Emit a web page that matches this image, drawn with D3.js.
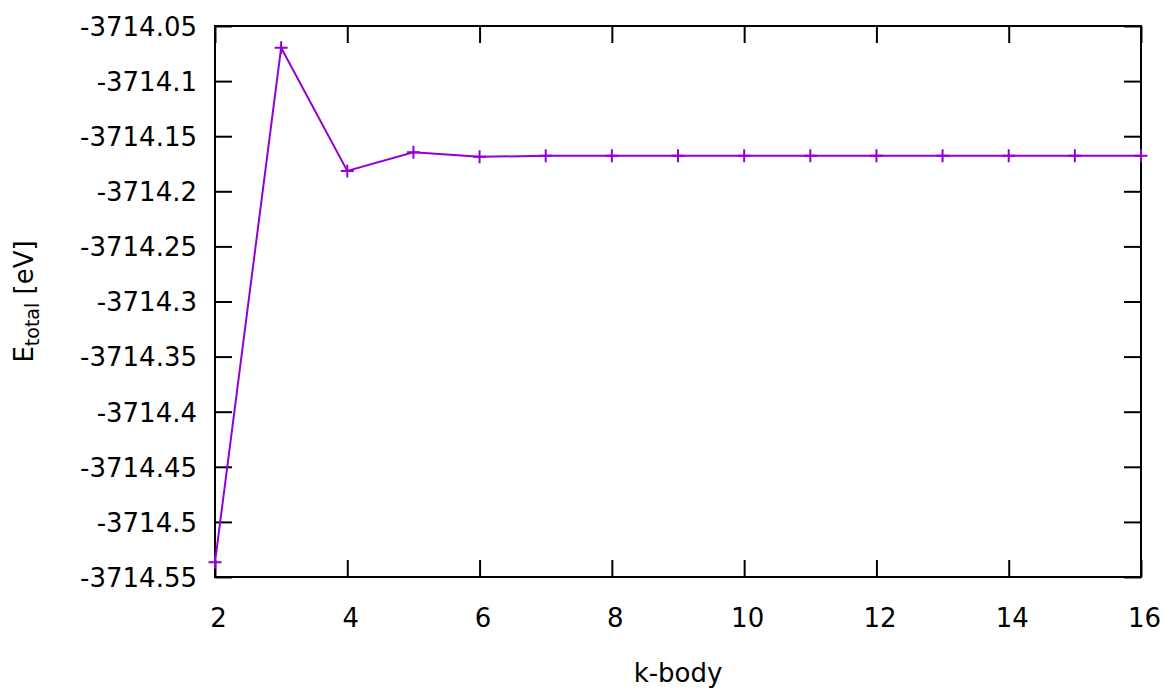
<!DOCTYPE html>
<html>
<head>
<meta charset="utf-8">
<script src="https://cdn.jsdelivr.net/npm/d3@7"></script>
<style>
  body { margin: 0; background: #fff; }
  text { font-family: "DejaVu Sans", sans-serif; font-size: 26px; fill: #000; }
</style>
</head>
<body>
<div id="plot"></div>
<script>
// data
const kBody = [2, 3, 4, 5, 6, 7, 8, 9, 10, 11, 12, 13, 14, 15, 16]
const eTotal = [-3714.5367, -3714.0697, -3714.1815, -3714.1646, -3714.1687, -3714.1678, -3714.1678, -3714.1678,
  -3714.1678, -3714.1678, -3714.1678, -3714.1678, -3714.1678, -3714.1678, -3714.1678]
const xTicks = [2, 4, 6, 8, 10, 12, 14, 16]
const yTicks = [-3714.05, -3714.1, -3714.15, -3714.2, -3714.25, -3714.3, -3714.35, -3714.4, -3714.45, -3714.5, -3714.55]

const width = 1165, height = 689
const margin = ({top: 26, right: 24, bottom: 112, left: 215})
const color = '#9400d3'
const tickLen = 17

const svg = d3.select('#plot').append('svg')
  .attr('width', width)
  .attr('height', height)

const xScale = d3.scaleLinear()
  .domain([2, 16])
  .range([margin.left, width - margin.right])
const yScale = d3.scaleLinear()
  .domain([-3714.55, -3714.05])
  .range([height - margin.bottom, margin.top])

const fmtY = d => String(+d.toFixed(2))

//axes: ticks point inwards, mirrored on top and right
const axisStyle = g => g
  .call(g => g.select('.domain').remove())
  .call(g => g.selectAll('.tick line').attr('stroke', '#000').attr('stroke-width', 2))
  .call(g => g.selectAll('.tick text').style('font-family', '"DejaVu Sans", sans-serif').style('font-size', '26px').attr('fill', '#000'))

svg.append('g')
  .attr('transform', `translate(0,${height - margin.bottom})`)
  .call(d3.axisBottom(xScale).tickValues(xTicks).tickSizeInner(-tickLen).tickSizeOuter(0).tickPadding(32))
  .call(axisStyle)
  .call(g => g.selectAll('.tick text').attr('dy', '0.71em').attr('dx', 3))

svg.append('g')
  .attr('transform', `translate(0,${margin.top})`)
  .call(d3.axisTop(xScale).tickValues(xTicks).tickSizeInner(-tickLen).tickSizeOuter(0).tickFormat(''))
  .call(axisStyle)

svg.append('g')
  .attr('transform', `translate(${margin.left},0)`)
  .call(d3.axisLeft(yScale).tickValues(yTicks).tickSizeInner(-tickLen).tickSizeOuter(0).tickPadding(18).tickFormat(fmtY))
  .call(axisStyle)
  .call(g => g.selectAll('.tick text').attr('dy', '0.36em'))

svg.append('g')
  .attr('transform', `translate(${width - margin.right},0)`)
  .call(d3.axisRight(yScale).tickValues(yTicks).tickSizeInner(-tickLen).tickSizeOuter(0).tickFormat(''))
  .call(axisStyle)

//frame
svg.append('rect')
  .attr('x', margin.left)
  .attr('y', margin.top)
  .attr('width', width - margin.left - margin.right)
  .attr('height', height - margin.top - margin.bottom)
  .attr('fill', 'none')
  .attr('stroke', '#000')
  .attr('stroke-width', 2)

//data line
const data = kBody.map((k, i) => [k, eTotal[i]])
const line = d3.line()
  .x(d => xScale(d[0]))
  .y(d => yScale(d[1]))

svg.append('path')
  .datum(data)
  .attr('d', line)
  .attr('fill', 'none')
  .attr('stroke', color)
  .attr('stroke-width', 2)

//plus markers
const m = 6.5
svg.append('g')
  .selectAll('path')
  .data(data)
  .join('path')
  .attr('d', d => {
    const x = xScale(d[0]), y = yScale(d[1])
    return `M${x - m},${y}H${x + m}M${x},${y - m}V${y + m}`
  })
  .attr('stroke', color)
  .attr('stroke-width', 2)

//axis labels
svg.append('text')
  .attr('x', (margin.left + width - margin.right) / 2)
  .attr('y', 682)
  .attr('text-anchor', 'middle')
  .text('k-body')

const yl = svg.append('text')
  .attr('transform', `translate(33,${(margin.top + height - margin.bottom) / 2}) rotate(-90)`)
  .attr('text-anchor', 'middle')
yl.append('tspan').text('E')
yl.append('tspan').style('font-size', '19px').attr('dy', 6).text('total')
yl.append('tspan').attr('dy', -6).text(' [eV]')
</script>
</body>
</html>
